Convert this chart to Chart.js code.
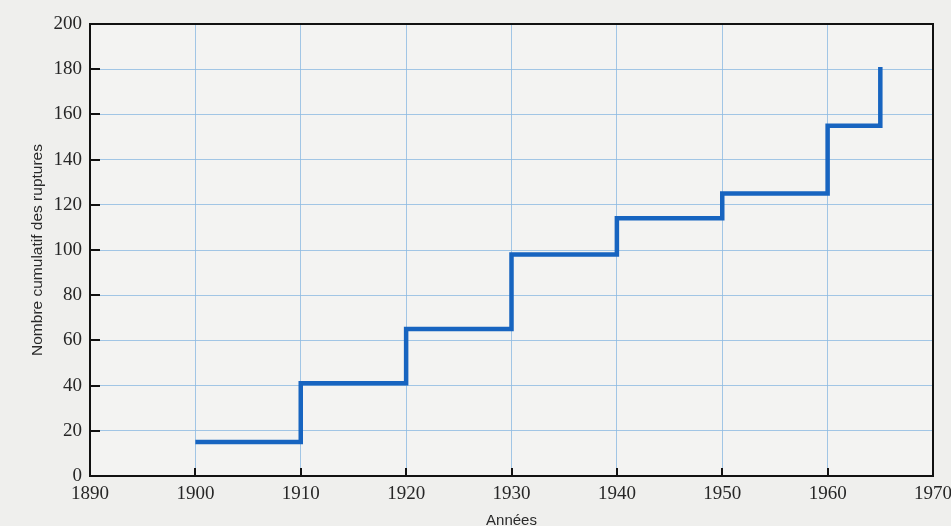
<!DOCTYPE html>
<html>
<head>
<meta charset="utf-8">
<script src="https://cdn.jsdelivr.net/npm/chart.js@4/dist/chart.umd.min.js"></script>
<style>
  html, body { margin: 0; padding: 0; background: #efefed; }
  #wrap { width: 951px; height: 526px; position: relative; }
</style>
</head>
<body>
<div id="wrap"><canvas id="c" width="951" height="526"></canvas></div>
<script>
// Data
const years = [1900, 1910, 1920, 1930, 1940, 1950, 1960, 1965];
const cumulativeRuptures = [15, 41, 65, 98, 114, 125, 155, 181];
const xTickYears = [1890, 1900, 1910, 1920, 1930, 1940, 1950, 1960, 1970];
const yTickValues = [0, 20, 40, 60, 80, 100, 120, 140, 160, 180, 200];
const xTitle = 'Années';
const yTitle = 'Nombre cumulatif des ruptures';

const points = years.map((y, i) => ({ x: y, y: cumulativeRuptures[i] }));

const bgPlugin = {
  id: 'bg',
  beforeDraw(chart) {
    const ctx = chart.ctx;
    ctx.save();
    ctx.fillStyle = '#efefed';
    ctx.fillRect(0, 0, chart.width, chart.height);
    const a = chart.chartArea;
    ctx.fillStyle = '#f3f3f2';
    ctx.fillRect(a.left, a.top, a.right - a.left, a.bottom - a.top);
    ctx.restore();
  }
};

const framePlugin = {
  id: 'frame',
  afterDraw(chart) {
    const ctx = chart.ctx;
    const a = chart.chartArea;
    const xs = chart.scales.x, ys = chart.scales.y;
    ctx.save();
    ctx.strokeStyle = '#111';
    ctx.lineWidth = 2;
    ctx.strokeRect(a.left, a.top, a.right - a.left, a.bottom - a.top);
    yTickValues.forEach(v => {
      const py = Math.round(ys.getPixelForValue(v));
      ctx.beginPath();
      ctx.moveTo(a.left, py);
      ctx.lineTo(a.left + 10, py);
      ctx.stroke();
    });
    xTickYears.forEach(v => {
      const px = Math.round(xs.getPixelForValue(v));
      ctx.beginPath();
      ctx.moveTo(px, a.bottom);
      ctx.lineTo(px, a.bottom - 8);
      ctx.stroke();
    });
    ctx.restore();
  }
};

new Chart(document.getElementById('c'), {
  type: 'line',
  data: {
    datasets: [{
      data: points,
      stepped: true,
      borderColor: '#1764c0',
      borderWidth: 4.5,
      borderCapStyle: 'butt',
      borderJoinStyle: 'miter',
      pointRadius: 0,
      fill: false
    }]
  },
  options: {
    responsive: false,
    animation: false,
    layout: { padding: { left: 0, right: 18, top: 24, bottom: 0 } },
    plugins: { legend: { display: false }, tooltip: { enabled: false } },
    scales: {
      x: {
        type: 'linear',
        min: 1890, max: 1970,
        afterBuildTicks(scale) { scale.ticks = xTickYears.map(v => ({ value: v })); },
        afterFit(scale) { scale.height = 50; scale.paddingLeft = 0; scale.paddingRight = 0; },
        grid: {
          drawTicks: false,
          color: 'rgba(140,185,225,0.8)',
          lineWidth: 1
        },
        border: { display: false },
        ticks: {
          padding: 7,
          maxRotation: 0,
          autoSkip: false,
          color: '#262626',
          font: { family: 'Liberation Serif', size: 19 },
          callback: v => String(v)
        },
        title: {
          display: true,
          text: xTitle,
          color: '#2a2a2a',
          font: { family: 'Liberation Sans', size: 15 },
          padding: { top: 0, bottom: -4 }
        }
      },
      y: {
        type: 'linear',
        min: 0, max: 200,
        afterBuildTicks(scale) { scale.ticks = yTickValues.map(v => ({ value: v })); },
        afterFit(scale) { scale.width = 90; scale.paddingTop = 0; scale.paddingBottom = 0; },
        grid: {
          drawTicks: false,
          color: 'rgba(140,185,225,0.8)',
          lineWidth: 1
        },
        border: { display: false },
        ticks: {
          padding: 8,
          autoSkip: false,
          color: '#262626',
          font: { family: 'Liberation Serif', size: 19 },
          callback: v => String(v)
        },
        title: {
          display: true,
          text: yTitle,
          color: '#2a2a2a',
          font: { family: 'Liberation Sans', size: 15.5 },
          padding: { top: 28, bottom: 0 }
        }
      }
    }
  },
  plugins: [bgPlugin, framePlugin]
});
</script>
</body>
</html>
